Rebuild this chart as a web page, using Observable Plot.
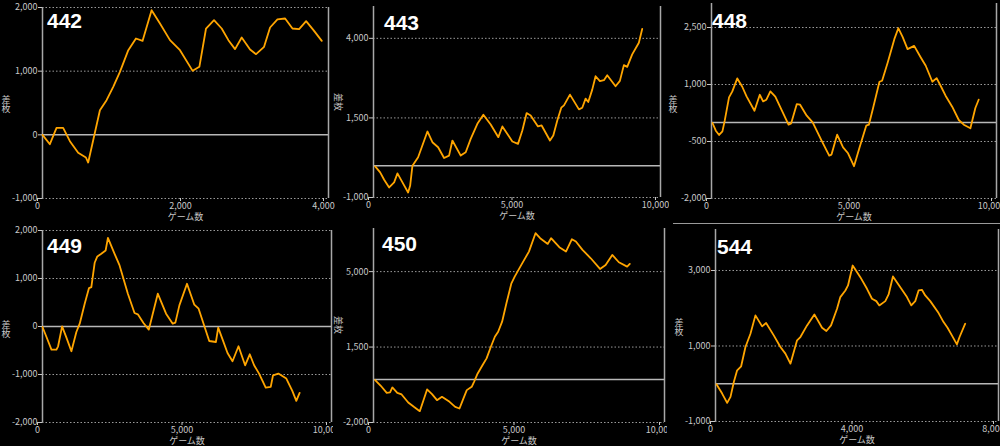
<!DOCTYPE html>
<html><head><meta charset="utf-8">
<script src="https://cdn.jsdelivr.net/npm/d3@7"></script>
<script src="https://cdn.jsdelivr.net/npm/@observablehq/plot@0.6"></script>
<style>
html,body{margin:0;padding:0;background:#000;}
body{width:1000px;height:446px;overflow:hidden;position:relative;font-family:"Noto Sans CJK JP",sans-serif;}
.panel{position:absolute;overflow:hidden;background:#000;}
.title{position:absolute;color:#fff;font-family:"Liberation Sans",Arial,sans-serif;font-weight:bold;font-size:21px;line-height:21px;white-space:nowrap;}
.ylab{position:absolute;color:#c8c8c8;font-size:9px;line-height:9px;width:10px;text-align:center;font-family:"Noto Sans CJK JP",sans-serif;}
.ylab.side{transform-origin:0 0;transform:translate(10px,0) rotate(90deg);width:auto;white-space:nowrap;}
.hline{position:absolute;height:1px;background:#9a9a9a;}
</style></head><body>
<script>
// ---- data: machine numbers ----
const machines = ["442", "443", "448", "449", "450", "544"];
const yAxisLabel = "差枚";
const xAxisLabel = "ゲーム数";

// ---- 442 ----
const games442 = [0,103,196,289,383,499,607,639,709,803,896,989,1083,1200,1307,1400,1526,1643,1783,1923,2100,2194,2287,2399,2506,2600,2693,2786,2903,2987,3099,3183,3286,3393,3496,3589,3687,3790,3906];
const diff442  = [0,-147,110,110,-100,-283,-356,-435,-84,387,545,754,990,1330,1513,1476,1958,1749,1487,1330,1005,1068,1670,1801,1670,1487,1346,1529,1340,1267,1382,1686,1812,1827,1670,1660,1785,1644,1476];
const yTicks442 = [-1000,0,1000,2000];
const xTicks442 = [0,2000,4000];

// ---- 443 ----
const games443 = [58,232,371,545,719,835,1009,1206,1276,1357,1555,1879,2053,2251,2459,2633,2749,3039,3213,3387,3619,3828,4083,4350,4490,4838,5035,5186,5336,5476,5731,5858,6148,6265,6404,6543,6636,6845,7158,7274,7390,7483,7622,7738,7889,8028,8144,8434,8585,8724,8840,9014,9246,9362];
const diff443  = [-21,-210,-442,-684,-526,-242,-526,-842,-632,0,263,1074,737,579,242,316,789,316,421,842,1316,1600,1295,895,1232,758,684,1105,1653,1579,1232,1263,789,947,1421,1821,1895,2232,1768,1821,2105,2000,2389,2810,2653,2684,2842,2495,2663,3158,3105,3495,3863,4295];
const yTicks443 = [-1000,1500,4000];
const xTicks443 = [0,5000,10000];

// ---- 448 ----
const games448 = [35,151,267,383,464,615,731,905,1079,1230,1508,1694,1810,1926,2065,2239,2471,2703,2796,2993,3109,3341,3550,3863,4130,4211,4408,4617,4791,5000,5197,5429,5522,5661,5893,5986,6183,6415,6555,6705,6879,7111,7343,7517,7749,7900,8039,8213,8445,8677,8852,9084,9258,9374];
const diff448  = [-13,-215,-328,-232,48,661,819,1160,941,687,311,731,556,600,819,679,311,-57,-22,486,468,180,4,-477,-871,-845,-320,-653,-810,-1151,-653,-83,-57,355,1073,1099,1581,2194,2482,2255,1931,2018,1712,1493,1073,1169,968,705,416,66,-57,-153,381,600];
const yTicks448 = [-2000,-500,1000,2500];
const xTicks448 = [0,5000,10000];

// ---- 449 ----
const games449 = [0,138,310,483,540,678,828,1000,1172,1287,1460,1609,1690,1805,1897,2034,2184,2264,2494,2667,2954,3184,3299,3494,3678,3989,4276,4506,4598,4736,5000,5253,5402,5770,6000,6080,6230,6402,6575,6782,7011,7172,7322,7494,7724,7897,7977,8161,8437,8644,8782,8897];
const diff449  = [-10,-218,-482,-482,-412,3,-232,-516,-114,59,475,801,821,1328,1459,1515,1584,1847,1515,1272,683,281,253,73,-66,683,267,59,80,440,891,454,371,-302,-323,-24,-267,-551,-724,-412,-808,-579,-808,-981,-1272,-1258,-1016,-981,-1085,-1341,-1549,-1383];
const yTicks449 = [-2000,-1000,0,1000,2000];
const xTicks449 = [0,5000,10000];

// ---- 450 ----
const games450 = [57,250,455,568,648,818,966,1193,1386,1591,1841,2011,2182,2352,2614,2807,2955,3068,3205,3375,3455,3580,3750,3886,4034,4170,4284,4420,4568,4739,4852,5080,5341,5568,5727,5989,6102,6386,6614,6818,6955,7182,7466,7784,7977,8205,8432,8716,8807];
const diff450  = [-31,-297,-622,-606,-374,-622,-699,-1071,-1272,-1474,-467,-684,-963,-808,-1040,-1272,-1350,-963,-498,-343,-111,276,664,973,1515,1980,2212,2677,3529,4458,4768,5310,5929,6781,6549,6285,6549,6131,5929,6502,6394,6007,5619,5124,5310,5774,5434,5232,5356];
const yTicks450 = [-2000,1500,5000];
const xTicks450 = [0,5000,10000];

// ---- 544 ----
const games544 = [28,188,329,424,518,612,725,847,988,1129,1318,1431,1647,1835,1976,2118,2306,2400,2588,2795,3012,3134,3266,3435,3529,3671,3746,3878,4094,4282,4424,4546,4631,4800,4894,5016,5224,5412,5534,5647,5741,5835,5929,6071,6306,6447,6560,6682,6824,6899,7059];
const diff544  = [-13,-260,-507,-348,48,357,463,974,1326,1811,1520,1608,1282,974,797,533,1150,1238,1546,1837,1485,1396,1546,1987,2295,2471,2604,3132,2824,2515,2251,2189,2075,2189,2366,2841,2559,2295,2075,2189,2471,2489,2339,2189,1872,1634,1485,1282,1044,1238,1590];
const yTicks544 = [-1000,1000,3000];
const xTicks544 = [0,4000,8000];

// ---- layout (positions only) ----
const panels = [
  {name: machines[0], games: games442, diffs: diff442, xTicks: xTicks442, yTicks: yTicks442, xMax: 4000,  yDomain: [-1000, 2000],
   box: [0, 0, 335, 222], m: [7, 7, 24, 42], title: [47, 10], ylab: [1, 95, false]},
  {name: machines[1], games: games443, diffs: diff443, xTicks: xTicks443, yTicks: yTicks443, xMax: 10000, yDomain: [-1000, 5000],
   box: [335, 0, 334, 222], m: [6, 9, 25, 38], title: [384, 12], ylab: [333, 93, true]},
  {name: machines[2], games: games448, diffs: diff448, xTicks: xTicks448, yTicks: yTicks448, xMax: 10000, yDomain: [-2000, 3132],
   box: [669, 0, 331, 222], m: [3, 4, 24, 42], title: [712, 10], ylab: [668, 95, false]},
  {name: machines[3], games: games449, diffs: diff449, xTicks: xTicks449, yTicks: yTicks449, xMax: 10000, yDomain: [-2000, 2000],
   box: [0, 223, 333, 223], m: [7, 2, 24, 42], title: [47, 235], ylab: [1, 320, false]},
  {name: machines[4], games: games450, diffs: diff450, xTicks: xTicks450, yTicks: yTicks450, xMax: 10000, yDomain: [-2000, 7000],
   box: [333, 223, 334, 223], m: [5, 3, 24, 40], title: [382, 233], ylab: [333, 316, true]},
  {name: machines[5], games: games544, diffs: diff544, xTicks: xTicks544, yTicks: yTicks544, xMax: 8000,  yDomain: [-1000, 4086],
   box: [667, 223, 333, 223], m: [6, 2, 25, 48], title: [717, 236], ylab: [674, 318, false]}
];

const fmt = d => d.toLocaleString("en-US");

for (const p of panels) {
  const [left, top, w, h] = p.box;
  const [mt, mr, mb, ml] = p.m;
  const div = document.createElement("div");
  div.className = "panel";
  Object.assign(div.style, {left: left + "px", top: top + "px", width: w + "px", height: h + "px"});
  const chart = Plot.plot({
    width: w, height: h,
    marginTop: mt, marginRight: mr, marginBottom: mb, marginLeft: ml,
    style: {background: "#000", color: "#c8c8c8", fontSize: "9px", fontFamily: "'Noto Sans CJK JP', sans-serif", overflow: "visible"},
    x: {domain: [0, p.xMax]},
    y: {domain: p.yDomain},
    marks: [
      Plot.ruleY(p.yTicks.filter(t => t !== 0), {stroke: "#9a9a9a", strokeWidth: 1, strokeDasharray: "1.5,2"}),
      Plot.ruleY([0], {stroke: "#b8b8b8", strokeWidth: 1.5}),
      Plot.ruleX([0, p.xMax], {stroke: "#a8a8a8", strokeWidth: 1.5}),
      Plot.line(p.diffs, {x: p.games, y: p.diffs, stroke: "#ffa500", strokeWidth: 1.8, strokeLinejoin: "round"}),
      Plot.axisX({ticks: p.xTicks, tickFormat: fmt, tickSize: 3, tickPadding: 1, dx: -5, label: null}),
      Plot.axisY({ticks: p.yTicks, tickFormat: fmt, tickSize: 4, tickPadding: 1, label: null}),
      Plot.text([xAxisLabel], {frameAnchor: "bottom", lineAnchor: "middle", dy: 19, fill: "#c8c8c8", fontSize: 9})
    ]
  });
  div.appendChild(chart);
  document.body.appendChild(div);

  const t = document.createElement("div");
  t.className = "title";
  t.textContent = p.name;
  Object.assign(t.style, {left: p.title[0] + "px", top: p.title[1] + "px"});
  document.body.appendChild(t);

  const yl = document.createElement("div");
  yl.className = "ylab" + (p.ylab[2] ? " side" : "");
  if (p.ylab[2]) {
    yl.textContent = yAxisLabel;
  } else {
    yl.innerHTML = Array.from(yAxisLabel).join("<br>");
  }
  Object.assign(yl.style, {left: p.ylab[0] + "px", top: p.ylab[1] + "px"});
  document.body.appendChild(yl);
}

const hl = document.createElement("div");
hl.className = "hline";
Object.assign(hl.style, {left: "673px", top: "223px", width: "327px"});
document.body.appendChild(hl);
</script>
</body></html>
